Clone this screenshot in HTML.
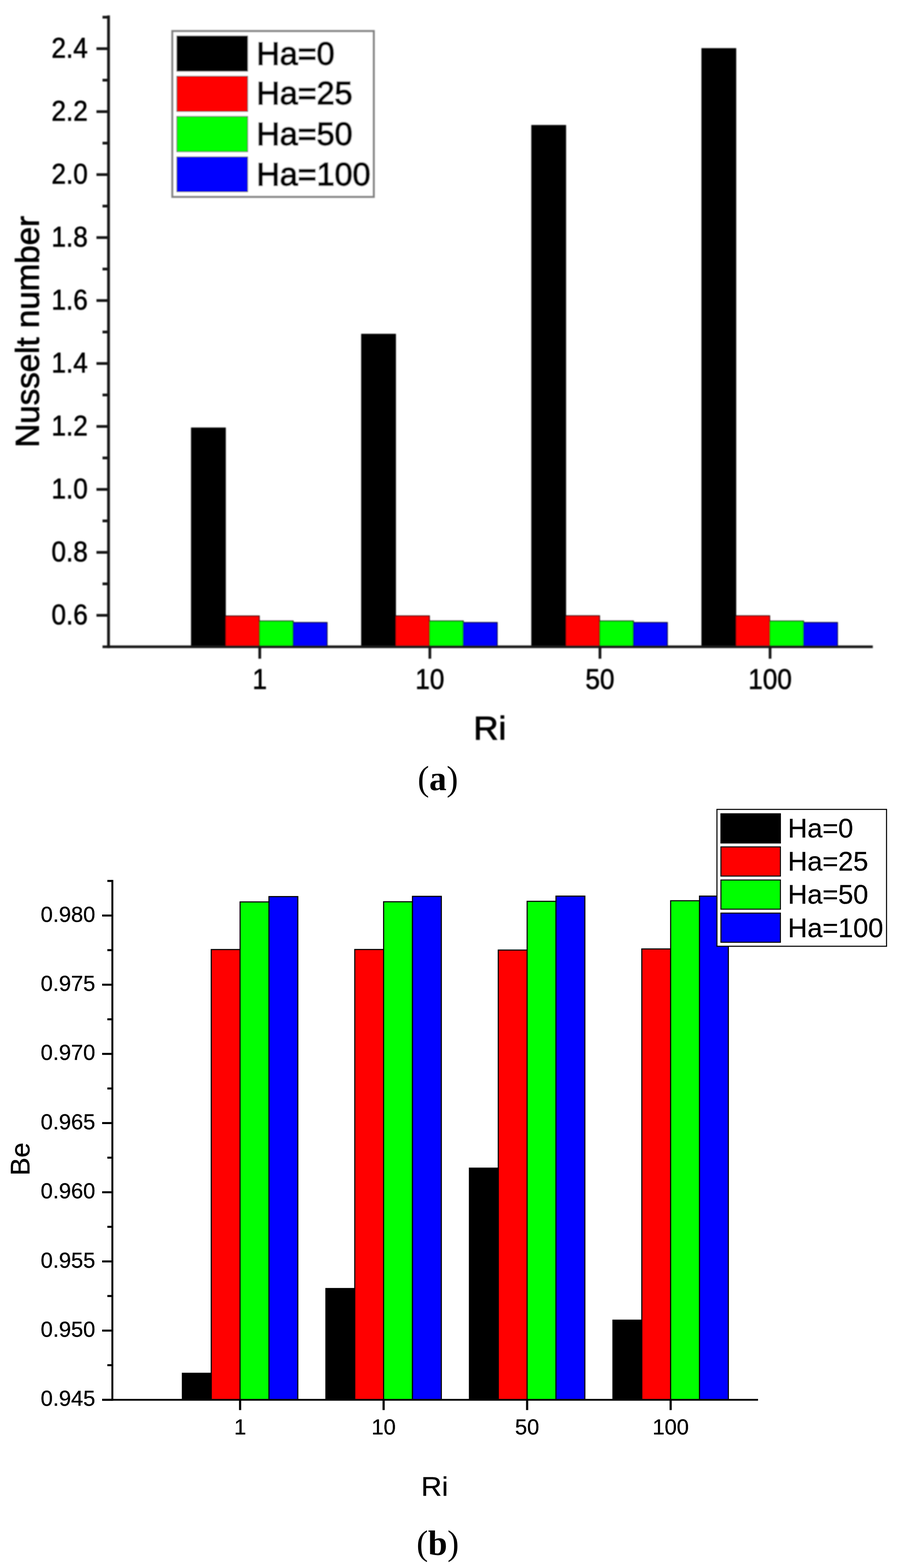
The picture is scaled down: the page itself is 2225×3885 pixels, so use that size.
<!DOCTYPE html>
<html><head><meta charset="utf-8"><title>Nusselt number and Be vs Ri</title>
<style>
html,body{margin:0;padding:0;background:#fff;}
body{width:2225px;height:3885px;overflow:hidden;}
svg{display:block;}
.ta{font-family:'Liberation Sans', Arial, sans-serif;font-size:70px;fill:#000;stroke:#000;stroke-width:1.2px;}
.tt{font-family:'Liberation Sans', Arial, sans-serif;font-size:82px;fill:#000;stroke:#000;stroke-width:1.6px;}
.la{font-family:'Liberation Sans', Arial, sans-serif;font-size:80px;fill:#000;stroke:#000;stroke-width:2.8px;}
.tb{font-family:'Liberation Sans', Arial, sans-serif;font-size:54px;fill:#000;stroke:#000;stroke-width:0.5px;}
.tl{font-family:'Liberation Sans', Arial, sans-serif;font-size:67px;fill:#000;stroke:#000;stroke-width:0.5px;}
.lb{font-family:'Liberation Sans', Arial, sans-serif;font-size:67px;fill:#000;stroke:#000;stroke-width:0.5px;}
.cap{font-family:'Liberation Serif', 'Times New Roman', serif;font-size:86px;fill:#000;}
</style></head>
<body>
<svg width="2225" height="3885" viewBox="0 0 2225 3885">
<defs><filter id="soft" x="-0.02" y="-0.02" width="1.04" height="1.04" filterUnits="objectBoundingBox"><feGaussianBlur stdDeviation="1.5"/></filter></defs>
<rect width="2225" height="3885" fill="#fff"/>
<g filter="url(#soft)">
<rect x="474.4" y="1060.4" width="84" height="542.2" fill="#000000" stroke="#000" stroke-width="2.2"/>
<rect x="558.4" y="1526.2" width="84" height="76.4" fill="#ff0000" stroke="#000" stroke-width="2.2"/>
<rect x="642.4" y="1538.7" width="84" height="63.9" fill="#00ff00" stroke="#000" stroke-width="2.2"/>
<rect x="726.4" y="1542.4" width="84" height="60.2" fill="#0000ff" stroke="#000" stroke-width="2.2"/>
<rect x="895.95" y="828.2" width="84" height="774.4" fill="#000000" stroke="#000" stroke-width="2.2"/>
<rect x="979.95" y="1526" width="84" height="76.6" fill="#ff0000" stroke="#000" stroke-width="2.2"/>
<rect x="1063.95" y="1538.6" width="84" height="64" fill="#00ff00" stroke="#000" stroke-width="2.2"/>
<rect x="1147.95" y="1542.4" width="84" height="60.2" fill="#0000ff" stroke="#000" stroke-width="2.2"/>
<rect x="1317.5" y="310.8" width="84" height="1291.8" fill="#000000" stroke="#000" stroke-width="2.2"/>
<rect x="1401.5" y="1525.7" width="84" height="76.9" fill="#ff0000" stroke="#000" stroke-width="2.2"/>
<rect x="1485.5" y="1538.6" width="84" height="64" fill="#00ff00" stroke="#000" stroke-width="2.2"/>
<rect x="1569.5" y="1542.4" width="84" height="60.2" fill="#0000ff" stroke="#000" stroke-width="2.2"/>
<rect x="1739.05" y="120.4" width="84" height="1482.2" fill="#000000" stroke="#000" stroke-width="2.2"/>
<rect x="1823.05" y="1525.8" width="84" height="76.8" fill="#ff0000" stroke="#000" stroke-width="2.2"/>
<rect x="1907.05" y="1538.8" width="84" height="63.8" fill="#00ff00" stroke="#000" stroke-width="2.2"/>
<rect x="1991.05" y="1542.4" width="84" height="60.2" fill="#0000ff" stroke="#000" stroke-width="2.2"/>
<line x1="268.9" y1="38.2" x2="268.9" y2="1606" stroke="#141414" stroke-width="6.9"/>
<line x1="254" y1="1602.6" x2="2162.6" y2="1602.6" stroke="#141414" stroke-width="6.5"/>
<line x1="239" y1="1524.6" x2="268.9" y2="1524.6" stroke="#141414" stroke-width="6.8"/>
<text transform="translate(217.6,1546.8) scale(0.925,1)" text-anchor="end" class="ta">0.6</text>
<line x1="239" y1="1368.6" x2="268.9" y2="1368.6" stroke="#141414" stroke-width="6.8"/>
<text transform="translate(217.6,1390.8) scale(0.925,1)" text-anchor="end" class="ta">0.8</text>
<line x1="239" y1="1212.6" x2="268.9" y2="1212.6" stroke="#141414" stroke-width="6.8"/>
<text transform="translate(217.6,1234.8) scale(0.925,1)" text-anchor="end" class="ta">1.0</text>
<line x1="239" y1="1056.6" x2="268.9" y2="1056.6" stroke="#141414" stroke-width="6.8"/>
<text transform="translate(217.6,1078.8) scale(0.925,1)" text-anchor="end" class="ta">1.2</text>
<line x1="239" y1="900.6" x2="268.9" y2="900.6" stroke="#141414" stroke-width="6.8"/>
<text transform="translate(217.6,922.8) scale(0.925,1)" text-anchor="end" class="ta">1.4</text>
<line x1="239" y1="744.6" x2="268.9" y2="744.6" stroke="#141414" stroke-width="6.8"/>
<text transform="translate(217.6,766.8) scale(0.925,1)" text-anchor="end" class="ta">1.6</text>
<line x1="239" y1="588.6" x2="268.9" y2="588.6" stroke="#141414" stroke-width="6.8"/>
<text transform="translate(217.6,610.8) scale(0.925,1)" text-anchor="end" class="ta">1.8</text>
<line x1="239" y1="432.6" x2="268.9" y2="432.6" stroke="#141414" stroke-width="6.8"/>
<text transform="translate(217.6,454.8) scale(0.925,1)" text-anchor="end" class="ta">2.0</text>
<line x1="239" y1="276.6" x2="268.9" y2="276.6" stroke="#141414" stroke-width="6.8"/>
<text transform="translate(217.6,298.8) scale(0.925,1)" text-anchor="end" class="ta">2.2</text>
<line x1="239" y1="120.6" x2="268.9" y2="120.6" stroke="#141414" stroke-width="6.8"/>
<text transform="translate(217.6,142.8) scale(0.925,1)" text-anchor="end" class="ta">2.4</text>
<line x1="254" y1="1446.6" x2="268.9" y2="1446.6" stroke="#141414" stroke-width="6.8"/>
<line x1="254" y1="1290.6" x2="268.9" y2="1290.6" stroke="#141414" stroke-width="6.8"/>
<line x1="254" y1="1134.6" x2="268.9" y2="1134.6" stroke="#141414" stroke-width="6.8"/>
<line x1="254" y1="978.6" x2="268.9" y2="978.6" stroke="#141414" stroke-width="6.8"/>
<line x1="254" y1="822.6" x2="268.9" y2="822.6" stroke="#141414" stroke-width="6.8"/>
<line x1="254" y1="666.6" x2="268.9" y2="666.6" stroke="#141414" stroke-width="6.8"/>
<line x1="254" y1="510.6" x2="268.9" y2="510.6" stroke="#141414" stroke-width="6.8"/>
<line x1="254" y1="354.6" x2="268.9" y2="354.6" stroke="#141414" stroke-width="6.8"/>
<line x1="254" y1="198.6" x2="268.9" y2="198.6" stroke="#141414" stroke-width="6.8"/>
<line x1="254" y1="42.6" x2="268.9" y2="42.6" stroke="#141414" stroke-width="6.8"/>
<line x1="643.6" y1="1602.6" x2="643.6" y2="1632" stroke="#141414" stroke-width="6.8"/>
<text transform="translate(643.6,1707.3) scale(0.925,1)" text-anchor="middle" class="ta">1</text>
<line x1="1065.07" y1="1602.6" x2="1065.07" y2="1632" stroke="#141414" stroke-width="6.8"/>
<text transform="translate(1065.07,1707.3) scale(0.925,1)" text-anchor="middle" class="ta">10</text>
<line x1="1486.54" y1="1602.6" x2="1486.54" y2="1632" stroke="#141414" stroke-width="6.8"/>
<text transform="translate(1486.54,1707.3) scale(0.925,1)" text-anchor="middle" class="ta">50</text>
<line x1="1908.01" y1="1602.6" x2="1908.01" y2="1632" stroke="#141414" stroke-width="6.8"/>
<text transform="translate(1908.01,1707.3) scale(0.925,1)" text-anchor="middle" class="ta">100</text>
<text transform="translate(1213.7,1832.3) scale(1.05,1)" text-anchor="middle" class="tt">Ri</text>
<text transform="translate(96,822) rotate(-90)" text-anchor="middle" class="tt">Nusselt number</text>
<rect x="427" y="77" width="499.1" height="410.8" fill="#fff" stroke="#808080" stroke-width="5"/>
<rect x="438.3" y="89.2" width="175.2" height="87.2" fill="#000000" stroke="#000" stroke-width="1.6"/>
<text x="635.5" y="160.2" class="la">Ha=0</text>
<rect x="438.3" y="189" width="175.2" height="87.2" fill="#ff0000" stroke="#000" stroke-width="1.6"/>
<text x="635.5" y="258.4" class="la">Ha=25</text>
<rect x="438.3" y="288.6" width="175.2" height="87.2" fill="#00ff00" stroke="#000" stroke-width="1.6"/>
<text x="635.5" y="358.5" class="la">Ha=50</text>
<rect x="438.3" y="388.7" width="175.2" height="86.5" fill="#0000ff" stroke="#000" stroke-width="1.6"/>
<text x="635.5" y="458.6" class="la">Ha=100</text>
</g>
<text x="1085" y="1957.6" text-anchor="middle" class="cap">(<tspan font-weight="bold">a</tspan>)</text>
<g>
<rect x="451.9" y="3402.57" width="71.5" height="65.63" fill="#000000" stroke="#000" stroke-width="2.75"/>
<rect x="523.4" y="2352.68" width="71.5" height="1115.53" fill="#ff0000" stroke="#000" stroke-width="2.75"/>
<rect x="594.9" y="2234.68" width="71.5" height="1233.53" fill="#00ff00" stroke="#000" stroke-width="2.75"/>
<rect x="666.4" y="2221.47" width="71.5" height="1246.73" fill="#0000ff" stroke="#000" stroke-width="2.75"/>
<rect x="807.5" y="3192.57" width="71.5" height="275.63" fill="#000000" stroke="#000" stroke-width="2.75"/>
<rect x="879" y="2352.57" width="71.5" height="1115.63" fill="#ff0000" stroke="#000" stroke-width="2.75"/>
<rect x="950.5" y="2234.28" width="71.5" height="1233.93" fill="#00ff00" stroke="#000" stroke-width="2.75"/>
<rect x="1022" y="2220.88" width="71.5" height="1247.33" fill="#0000ff" stroke="#000" stroke-width="2.75"/>
<rect x="1163.1" y="2894.28" width="71.5" height="573.93" fill="#000000" stroke="#000" stroke-width="2.75"/>
<rect x="1234.6" y="2353.97" width="71.5" height="1114.23" fill="#ff0000" stroke="#000" stroke-width="2.75"/>
<rect x="1306.1" y="2233.18" width="71.5" height="1235.03" fill="#00ff00" stroke="#000" stroke-width="2.75"/>
<rect x="1377.6" y="2220.28" width="71.5" height="1247.93" fill="#0000ff" stroke="#000" stroke-width="2.75"/>
<rect x="1518.7" y="3270.97" width="71.5" height="197.23" fill="#000000" stroke="#000" stroke-width="2.75"/>
<rect x="1590.2" y="2351.18" width="71.5" height="1117.03" fill="#ff0000" stroke="#000" stroke-width="2.75"/>
<rect x="1661.7" y="2231.78" width="71.5" height="1236.43" fill="#00ff00" stroke="#000" stroke-width="2.75"/>
<rect x="1733.2" y="2220.28" width="71.5" height="1247.93" fill="#0000ff" stroke="#000" stroke-width="2.75"/>
<line x1="278.4" y1="2180.2" x2="278.4" y2="3470.5" stroke="#000" stroke-width="4.8"/>
<line x1="253" y1="3468.2" x2="1878.2" y2="3468.2" stroke="#000" stroke-width="4.6"/>
<line x1="253" y1="3468.2" x2="278.4" y2="3468.2" stroke="#000" stroke-width="5"/>
<text x="236" y="3483.4" text-anchor="end" class="tb">0.945</text>
<line x1="253" y1="3296.8" x2="278.4" y2="3296.8" stroke="#000" stroke-width="5"/>
<text x="236" y="3312" text-anchor="end" class="tb">0.950</text>
<line x1="253" y1="3125.4" x2="278.4" y2="3125.4" stroke="#000" stroke-width="5"/>
<text x="236" y="3140.6" text-anchor="end" class="tb">0.955</text>
<line x1="253" y1="2954" x2="278.4" y2="2954" stroke="#000" stroke-width="5"/>
<text x="236" y="2969.2" text-anchor="end" class="tb">0.960</text>
<line x1="253" y1="2782.6" x2="278.4" y2="2782.6" stroke="#000" stroke-width="5"/>
<text x="236" y="2797.8" text-anchor="end" class="tb">0.965</text>
<line x1="253" y1="2611.2" x2="278.4" y2="2611.2" stroke="#000" stroke-width="5"/>
<text x="236" y="2626.4" text-anchor="end" class="tb">0.970</text>
<line x1="253" y1="2439.8" x2="278.4" y2="2439.8" stroke="#000" stroke-width="5"/>
<text x="236" y="2455" text-anchor="end" class="tb">0.975</text>
<line x1="253" y1="2268.4" x2="278.4" y2="2268.4" stroke="#000" stroke-width="5"/>
<text x="236" y="2283.6" text-anchor="end" class="tb">0.980</text>
<line x1="266" y1="3382.5" x2="278.4" y2="3382.5" stroke="#000" stroke-width="5"/>
<line x1="266" y1="3211.1" x2="278.4" y2="3211.1" stroke="#000" stroke-width="5"/>
<line x1="266" y1="3039.7" x2="278.4" y2="3039.7" stroke="#000" stroke-width="5"/>
<line x1="266" y1="2868.3" x2="278.4" y2="2868.3" stroke="#000" stroke-width="5"/>
<line x1="266" y1="2696.9" x2="278.4" y2="2696.9" stroke="#000" stroke-width="5"/>
<line x1="266" y1="2525.5" x2="278.4" y2="2525.5" stroke="#000" stroke-width="5"/>
<line x1="266" y1="2354.1" x2="278.4" y2="2354.1" stroke="#000" stroke-width="5"/>
<line x1="266" y1="2182.7" x2="278.4" y2="2182.7" stroke="#000" stroke-width="5"/>
<line x1="594.9" y1="3468.2" x2="594.9" y2="3493.7" stroke="#000" stroke-width="5.4"/>
<text x="594.9" y="3554.2" text-anchor="middle" class="tb">1</text>
<line x1="950.5" y1="3468.2" x2="950.5" y2="3493.7" stroke="#000" stroke-width="5.4"/>
<text x="950.5" y="3554.2" text-anchor="middle" class="tb">10</text>
<line x1="1306.1" y1="3468.2" x2="1306.1" y2="3493.7" stroke="#000" stroke-width="5.4"/>
<text x="1306.1" y="3554.2" text-anchor="middle" class="tb">50</text>
<line x1="1661.7" y1="3468.2" x2="1661.7" y2="3493.7" stroke="#000" stroke-width="5.4"/>
<text x="1661.7" y="3554.2" text-anchor="middle" class="tb">100</text>
<text transform="translate(1077,3705.5) scale(1.065,1)" text-anchor="middle" class="tl">Ri</text>
<text transform="translate(72.5,2871.8) rotate(-90)" text-anchor="middle" class="tl">Be</text>
<rect x="1776.4" y="2005.4" width="420.2" height="339.1" fill="#fff" stroke="#000" stroke-width="2.6"/>
<rect x="1786.25" y="2016.35" width="147.4" height="72.3" fill="#000000" stroke="#000" stroke-width="2.5"/>
<text x="1952" y="2074.6" class="lb">Ha=0</text>
<rect x="1786.25" y="2098.35" width="147.4" height="72.3" fill="#ff0000" stroke="#000" stroke-width="2.5"/>
<text x="1952" y="2156.8" class="lb">Ha=25</text>
<rect x="1786.25" y="2180.35" width="147.4" height="72.3" fill="#00ff00" stroke="#000" stroke-width="2.5"/>
<text x="1952" y="2238.9" class="lb">Ha=50</text>
<rect x="1786.25" y="2262.35" width="147.4" height="72.3" fill="#0000ff" stroke="#000" stroke-width="2.5"/>
<text x="1952" y="2321.6" class="lb">Ha=100</text>
</g>
<text x="1084.5" y="3852" text-anchor="middle" class="cap">(<tspan font-weight="bold">b</tspan>)</text>
</svg>
</body></html>
